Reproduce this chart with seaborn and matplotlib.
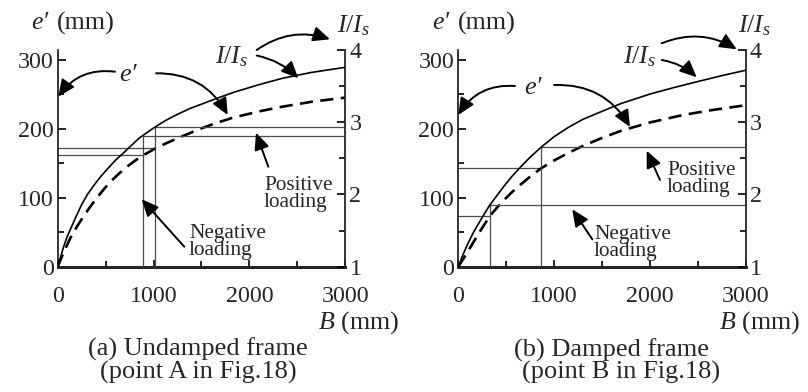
import matplotlib
matplotlib.use("Agg")
import matplotlib.pyplot as plt
import seaborn as sns

# ---------------- data ----------------
# (a) Undamped frame
B_a = [0, 30, 60, 100, 130, 180, 250, 310, 380, 450, 510, 600, 690, 770, 850,
       1000, 1120, 1250, 1380, 1500, 1680, 1850, 2100, 2350, 2650, 3000]
I_a = [1.0, 1.13, 1.27, 1.42, 1.51, 1.66, 1.86, 2.00, 2.13, 2.25, 2.34, 2.47,
       2.58, 2.68, 2.78, 2.92, 3.02, 3.11, 3.19, 3.25, 3.34, 3.42, 3.52, 3.61,
       3.69, 3.76]
Bd_a = [0, 60, 130, 200, 270, 340, 410, 480, 550, 640, 725, 810, 900, 1020,
        1150, 1300, 1490, 1650, 1830, 2100, 2350, 2650, 3000]
E_a = [0, 20, 41, 58, 73, 87, 100, 112, 123, 135, 145, 154, 162, 171.5, 180,
       189, 200, 208, 216, 225, 232, 239, 245]
refB_a = [885, 1020]
refI_a = [2.81, 2.94]
refE_a = [161.5, 171.5]

# (b) Damped frame
B_b = [0, 50, 100, 160, 230, 327, 400, 480, 560, 650, 745, 865, 1000, 1150,
       1300, 1480, 1700, 2000, 2250, 2520, 2750, 3000]
I_b = [1.0, 1.17, 1.32, 1.48, 1.64, 1.85, 1.98, 2.12, 2.25, 2.38, 2.51, 2.655,
       2.80, 2.93, 3.04, 3.14, 3.26, 3.39, 3.48, 3.57, 3.645, 3.72]
Bd_b = [0, 50, 100, 160, 230, 327, 400, 480, 560, 650, 745, 865, 1000, 1150,
        1300, 1480, 1700, 2000, 2350, 2650, 3000]
E_b = [0, 11, 22, 36, 52, 73, 85, 97, 108, 119, 130, 142.6, 154, 165, 175,
       185.5, 197, 209, 220, 227, 234]
refB_b = [327, 865]
refI_b = [1.85, 2.655]
refE_b = [73, 142.6]

x_ticks = [0, 1000, 2000, 3000]
e_ticks = [0, 100, 200, 300]
r_ticks = [1, 2, 3, 4]
captions = [["(a) Undamped frame", "(point A in Fig.18)"],
            ["(b) Damped frame", "(point B in Fig.18)"]]

# ---------------- style ----------------
sns.set_style("ticks")
plt.rcParams["font.family"] = ["Liberation Serif", "DejaVu Serif"]
plt.rcParams["mathtext.fontset"] = "custom"
plt.rcParams["mathtext.rm"] = "Liberation Serif"
plt.rcParams["mathtext.it"] = "Liberation Serif:italic"
plt.rcParams["mathtext.bf"] = "Liberation Serif:bold"

W, H = 808, 392
fig = plt.figure(figsize=(W / 100, H / 100), dpi=100)

TICK_FS = 17.3
LAB_FS = 18.7
CAP_FS = 19
TXT_FS = 15.3


def fp(x, y):
    """image pixel -> figure fraction"""
    return (x / W, 1 - y / H)


def arrow(start, tip, rad=0.0):
    fig.add_artist(matplotlib.patches.FancyArrowPatch(
        fp(*start), fp(*tip), transform=fig.transFigure,
        arrowstyle="-|>,head_length=0.6,head_width=0.27", mutation_scale=17,
        connectionstyle=f"arc3,rad={rad}", color="k", lw=1.4, zorder=10,
        shrinkA=0, shrinkB=0))


def panel(x0, B, I, Bd, E, rB, rI, rE):
    left, right, top, bot = x0, x0 + 287.5, 50, 266.7
    ax = fig.add_axes([left / W, 1 - bot / H, (right - left) / W, (bot - top) / H])
    ax2 = ax.twinx()
    ax.set_facecolor("none")
    gc, glw = "#4a4a4a", 0.9
    for b, i, e in zip(rB, rI, rE):
        ax2.plot([b, b], [1, i], color=gc, lw=glw, zorder=1)
        ax2.plot([b, 3000], [i, i], color=gc, lw=glw, zorder=1)
        ax.plot([0, b], [e, e], color=gc, lw=glw, zorder=1)
    sns.lineplot(x=Bd, y=E, ax=ax, color="k", lw=1.9,
                 linestyle=(0, (5, 2.8)), zorder=3)
    sns.lineplot(x=B, y=I, ax=ax2, color="k", lw=1.2, zorder=3)
    ax.set_xlim(0, 3000)
    ax.set_ylim(0, 314)
    ax2.set_ylim(1, 4)
    for a in (ax, ax2):
        a.set_xlabel("")
        a.set_ylabel("")
        a.spines["top"].set_visible(False)
        for s in ("left", "right"):
            a.spines[s].set_linewidth(1.3)
        a.spines["bottom"].set_linewidth(2.2)
    ax.spines["right"].set_visible(False)
    ax2.spines["left"].set_visible(False)
    ax2.spines["bottom"].set_visible(False)
    ax.set_xticks(x_ticks)
    ax.set_xticks([500, 1500, 2500], minor=True)
    ax.set_yticks(e_ticks)
    ax.set_yticks([50, 150, 250], minor=True)
    ax2.set_yticks(r_ticks)
    ax2.set_yticks([1.5, 2.5, 3.5], minor=True)
    ax.tick_params(axis="x", which="both", direction="in", labelsize=TICK_FS,
                   pad=14, width=1.2, color="k")
    ax.tick_params(axis="x", which="major", length=5)
    ax.tick_params(axis="x", which="minor", length=4)
    ax.tick_params(axis="y", which="both", direction="in", labelsize=TICK_FS,
                   pad=3, width=1.2, color="k")
    ax.tick_params(axis="y", which="major", length=6)
    ax.tick_params(axis="y", which="minor", length=4)
    ax2.tick_params(axis="y", which="both", direction="in", labelsize=TICK_FS,
                    pad=3, width=1.2, color="k")
    ax2.tick_params(axis="y", which="major", length=6)
    ax2.tick_params(axis="y", which="minor", length=4)
    return ax, ax2


panel(57.7, B_a, I_a, Bd_a, E_a, refB_a, refI_a, refE_a)
panel(458.3, B_b, I_b, Bd_b, E_b, refB_b, refI_b, refE_b)


def txt(x, y, s, ha="left", va="center", fs=LAB_FS, **kw):
    fig.text(*fp(x, y), s, ha=ha, va=va, fontsize=fs, **kw)


# axis titles
for dx in (0, 401):
    txt(31 + dx, 23, "e\u2032", style="italic")
    txt(57 + dx, 23, "(mm)")
    txt(354 + dx, 26, r"$I/I_s$", ha="center")
    txt(399 + dx, 323, r"$B$ (mm)", ha="right")

# captions
txt(198, 349, captions[0][0], ha="center", fs=CAP_FS)
txt(198, 372, captions[0][1], ha="center", fs=CAP_FS)
txt(612, 350, captions[1][0], ha="center", fs=CAP_FS)
txt(621, 372, captions[1][1], ha="center", fs=CAP_FS)

# in-plot labels, panel (a)
txt(128, 75, "e\u2032", ha="center", fs=19, style="italic")
txt(232, 57, r"$I/I_s$", ha="center")
txt(264, 194, "Positive\nloading", fs=TXT_FS, linespacing=0.88)
txt(189, 242, "Negative\nloading", fs=TXT_FS, linespacing=0.88)
arrow((115, 71.7), (58.3, 96.7), rad=0.3)
arrow((156, 73.3), (227.7, 115), rad=-0.3)
arrow((256.7, 50), (330, 39.3), rad=-0.25)
arrow((256.7, 55.5), (298.3, 78.3), rad=-0.15)
arrow((268.3, 166.7), (256, 132.7))
arrow((184.3, 246.7), (141.7, 199.3))

# in-plot labels, panel (b)
txt(533, 88, "e\u2032", ha="center", fs=19, style="italic")
txt(640, 57, r"$I/I_s$", ha="center")
txt(667, 179, "Positive\nloading", fs=TXT_FS, linespacing=0.88)
txt(594, 243, "Negative\nloading", fs=TXT_FS, linespacing=0.88)
arrow((515, 86), (458.3, 115), rad=0.3)
arrow((554, 85), (630, 127), rad=-0.3)
arrow((661.7, 43.3), (736.7, 49.3), rad=-0.25)
arrow((661.7, 60), (696.7, 77.3), rad=-0.15)
arrow((660, 180), (646.7, 150.7))
arrow((592.3, 239.3), (572.3, 209.3))

fig.savefig("out.png", dpi=100)
